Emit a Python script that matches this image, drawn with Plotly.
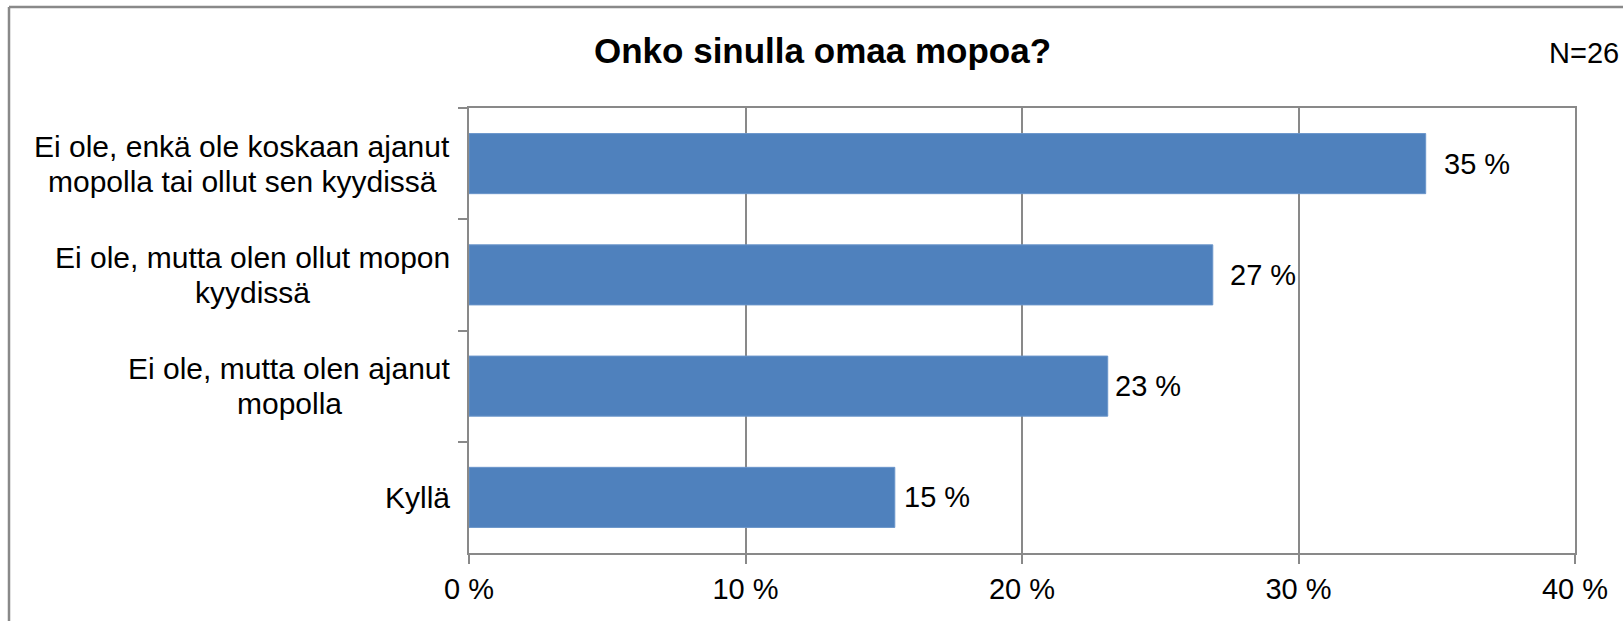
import plotly.graph_objects as go

categories = [
    "Ei ole, enkä ole koskaan ajanut<br>mopolla tai ollut sen kyydissä",
    "Ei ole, mutta olen ollut mopon<br>kyydissä",
    "Ei ole, mutta olen ajanut<br>mopolla",
    "Kyllä",
]
values = [34.6, 26.9, 23.1, 15.4]
value_labels = ["35 %", "27 %", "23 %", "15 %"]
label_shifts = [16, 15, 5, 7]
x_tickvals = [0, 10, 20, 30, 40]
x_ticktext = ["0 %", "10 %", "20 %", "30 %", "40 %"]
title_text = "Onko sinulla omaa mopoa?"
n_text = "N=26"

W, H = 1623, 621
L, R, T, B = 469, 48, 108, 68
PW, PH = W - L - R, H - T - B
FONT = "Liberation Sans, Arial, sans-serif"
GRAY = "#898989"
LINE_GAP = 35
CAT_SIZE = 30
LABEL_GAP = 19

# Liberation Sans advance widths (Arial metric compatible), per 1000 em
_W = {" ": 278, ",": 278, "E": 667, "K": 667, "i": 222, "o": 556, "l": 222, "e": 556,
      "n": 556, "k": 500, "ä": 556, "s": 500, "a": 556, "j": 222, "u": 556, "t": 278,
      "m": 833, "p": 556, "y": 500, "d": 556}


def text_width(s, size):
    return sum(_W.get(ch, 556) for ch in s) * size / 1000.0


fig = go.Figure()
fig.add_trace(go.Bar(
    x=values, y=categories, orientation="h",
    marker=dict(color="#4F81BD", line=dict(color="#6A95CA", width=1)),
    hoverinfo="skip",
))

annotations = []
for c, v, t, s in zip(categories, values, value_labels, label_shifts):
    annotations.append(dict(x=v, y=c, xref="x", yref="y", text=t, showarrow=False,
                            xanchor="left", yanchor="middle", xshift=s,
                            font=dict(family=FONT, size=29, color="#000")))
    lines = c.split("<br>")
    n = len(lines)
    maxw = max(text_width(ln, CAT_SIZE) for ln in lines)
    for i, ln in enumerate(lines):
        annotations.append(dict(x=0, y=c, xref="paper", yref="y", text=ln, showarrow=False,
                                xanchor="center", yanchor="middle",
                                xshift=-LABEL_GAP - maxw / 2,
                                yshift=-(i - (n - 1) / 2) * LINE_GAP,
                                font=dict(family=FONT, size=CAT_SIZE, color="#000")))

annotations.append(dict(x=(1547 - L) / PW, y=1 + (T - 53) / PH, xref="paper", yref="paper",
                        text=n_text, showarrow=False, xanchor="left", yanchor="middle",
                        font=dict(family=FONT, size=29, color="#000")))
annotations.append(dict(x=(822 - L) / PW, y=1 + (T - 51) / PH, xref="paper", yref="paper",
                        text="<b>" + title_text + "</b>", showarrow=False,
                        xanchor="center", yanchor="middle",
                        font=dict(family=FONT, size=35, color="#000")))

fig.update_layout(
    width=W, height=H,
    margin=dict(l=L, r=R, t=T, b=B),
    paper_bgcolor="white", plot_bgcolor="white",
    showlegend=False,
    bargap=0.46,
    annotations=annotations,
    shapes=[
        dict(type="line", xref="paper", yref="paper",
             x0=(9 - L) / PW, x1=(W + 20 - L) / PW,
             y0=1 + (T - 7) / PH, y1=1 + (T - 7) / PH,
             line=dict(color=GRAY, width=2.5), layer="below"),
        dict(type="line", xref="paper", yref="paper",
             x0=(9 - L) / PW, x1=(9 - L) / PW,
             y0=-(B + 20) / PH, y1=1 + (T - 7) / PH,
             line=dict(color=GRAY, width=2.5), layer="below"),
    ],
    xaxis=dict(range=[0, 40], tickvals=x_tickvals, ticktext=x_ticktext,
               showgrid=True, gridcolor=GRAY, gridwidth=1.5,
               showline=True, linecolor=GRAY, linewidth=2, mirror=True,
               ticks="outside", ticklen=9, tickcolor=GRAY, tickwidth=2,
               zeroline=False, fixedrange=True,
               tickfont=dict(family=FONT, size=29, color="#000")),
    yaxis=dict(type="category", autorange="reversed", tickson="boundaries",
               showticklabels=False, showgrid=False,
               showline=True, linecolor=GRAY, linewidth=2, mirror=True,
               ticks="outside", ticklen=9, tickcolor=GRAY, tickwidth=2,
               fixedrange=True),
)

fig.write_html("out.html", post_script="document.body.style.margin = '0';",
               config={"displayModeBar": False})
